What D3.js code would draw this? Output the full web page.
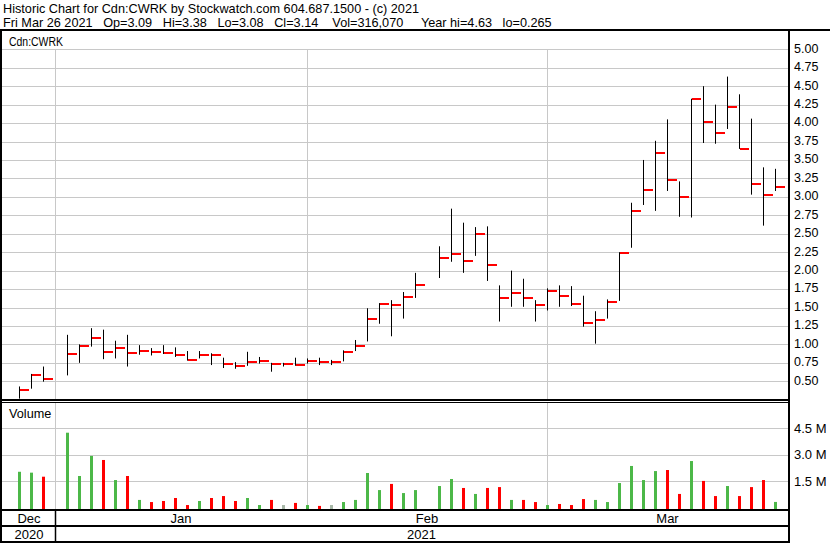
<!DOCTYPE html>
<html><head><meta charset="utf-8">
<script src="https://cdn.jsdelivr.net/npm/d3@7"></script>
<style>
html,body{margin:0;padding:0;background:#fff;}
svg{display:block;font-family:"Liberation Sans",Arial,sans-serif;}
</style></head>
<body>
<svg id="chart" width="830" height="543"></svg>
<script>
// ---------------- data ----------------
const dates = [
 "2020-12-29","2020-12-30","2020-12-31",
 "2021-01-04","2021-01-05","2021-01-06","2021-01-07","2021-01-08",
 "2021-01-11","2021-01-12","2021-01-13","2021-01-14","2021-01-15",
 "2021-01-18","2021-01-19","2021-01-20","2021-01-21","2021-01-22",
 "2021-01-25","2021-01-26","2021-01-27","2021-01-28","2021-01-29",
 "2021-02-01","2021-02-02","2021-02-03","2021-02-04","2021-02-05",
 "2021-02-08","2021-02-09","2021-02-10","2021-02-11","2021-02-12",
 "2021-02-16","2021-02-17","2021-02-18","2021-02-19",
 "2021-02-22","2021-02-23","2021-02-24","2021-02-25","2021-02-26",
 "2021-03-01","2021-03-02","2021-03-03","2021-03-04","2021-03-05",
 "2021-03-08","2021-03-09","2021-03-10","2021-03-11","2021-03-12",
 "2021-03-15","2021-03-16","2021-03-17","2021-03-18","2021-03-19",
 "2021-03-22","2021-03-23","2021-03-24","2021-03-25","2021-03-26"
];
const highs = [
 0.43,0.60,0.70,
 1.13,1.00,1.22,1.20,1.05,
 1.13,0.99,0.95,0.99,0.96,
 0.91,0.91,0.88,0.82,0.76,
 0.90,0.83,0.75,0.75,0.82,
 0.81,0.82,0.79,0.92,1.06,
 1.49,1.56,1.60,1.71,1.97,
 2.33,2.84,2.65,2.59,
 2.60,1.80,2.00,1.89,1.60,
 1.76,1.80,1.79,1.66,1.45,
 1.61,2.25,2.92,3.50,3.76,
 4.05,3.21,4.33,4.50,4.25,
 4.63,4.39,4.06,3.40,3.38
];
const lows = [
 0.265,0.40,0.495,
 0.58,0.75,0.97,0.80,0.81,
 0.70,0.86,0.85,0.87,0.83,
 0.78,0.81,0.72,0.68,0.67,
 0.71,0.74,0.63,0.70,0.71,
 0.74,0.72,0.72,0.77,0.91,
 1.04,1.28,1.11,1.35,1.63,
 1.90,2.12,1.97,2.20,
 1.86,1.31,1.51,1.51,1.31,
 1.46,1.51,1.52,1.24,1.01,
 1.35,1.59,2.31,2.89,2.81,
 3.08,2.73,2.72,3.73,3.72,
 3.92,3.65,3.03,2.61,3.08
];
const closes = [
 0.38,0.59,0.53,
 0.87,0.98,1.09,0.90,0.95,
 0.89,0.91,0.90,0.89,0.86,
 0.79,0.86,0.85,0.74,0.71,
 0.76,0.78,0.74,0.74,0.72,
 0.78,0.76,0.76,0.90,0.98,
 1.35,1.55,1.53,1.64,1.80,
 2.17,2.22,2.13,2.50,
 2.07,1.63,1.70,1.63,1.54,
 1.73,1.65,1.55,1.29,1.33,
 1.58,2.24,2.81,3.09,3.60,
 3.23,3.00,4.33,4.02,3.87,
 4.22,3.65,3.18,3.02,3.14
];
const volumes = [
 2030000,1980000,1750000,
 4250000,1790000,2930000,2700000,1560000,
 1790000,430000,310000,370000,540000,
 140000,370000,540000,650000,370000,
 540000,140000,430000,140000,260000,
 140000,90000,140000,310000,430000,
 1960000,990000,1340000,820000,990000,
 1220000,1620000,1110000,770000,
 1110000,1160000,430000,430000,310000,
 140000,200000,140000,480000,430000,
 310000,1390000,2360000,1560000,2070000,
 2130000,770000,2640000,1510000,650000,
 1220000,650000,1160000,1560000,316070
];
const priorClose = 0.30;
const priceTicks = [0.50,0.75,1.00,1.25,1.50,1.75,2.00,2.25,2.50,2.75,3.00,3.25,3.50,3.75,4.00,4.25,4.50,4.75,5.00];
const volTicks = [1500000,3000000,4500000];
const volTickLabels = ["1.5 M","3.0 M","4.5 M"];
const monthLabels = ["Dec","Jan","Feb","Mar"];
const monthStarts = ["2020-12-01","2021-01-01","2021-02-01","2021-03-01","2021-04-01"];
const yearLabels = ["2020","2021"];
const yearStarts = ["2020-01-01","2021-01-01","2022-01-01"];
const headerLine1 = "Historic Chart for Cdn:CWRK by Stockwatch.com 604.687.1500 - (c) 2021";
const headerLine2 = "Fri Mar 26 2021   Op=3.09   Hi=3.38   Lo=3.08   Cl=3.14    Vol=316,070     Year hi=4.63   lo=0.265";
const symbolLabel = "Cdn:CWRK";

// ---------------- helpers ----------------
const parse = d3.timeParse("%Y-%m-%d");
const base = new Date(2021,0,1);
function wdIndex(date){
  let n = 0;
  if (date >= base){
    for (let d = new Date(base); d < date; d.setDate(d.getDate()+1)) if (d.getDay()%6) n++;
  } else {
    for (let d = new Date(date); d < base; d.setDate(d.getDate()+1)) if (d.getDay()%6) n--;
  }
  return n;
}
const idx = dates.map(s => wdIndex(parse(s)));
const keepSpaces = s => s.replace(/ /g, "\u00A0");

// layout
const W = 830, H = 543;
const plotL = 2, plotR = 788;
const priceBot = 399;
const volTop = 403, volBot = 509;

const x = d3.scaleLinear().domain([-4.333, 61.083]).range([3, 788]);
const y = d3.scaleLinear().domain([0.5, 5.0]).range([381.3, 49.3]);
const yv = d3.scaleLinear().domain([0, 4500000]).range([507.5, 428.3]);

const svg = d3.select("#chart");
svg.append("rect").attr("width",W).attr("height",H).attr("fill","#fff");

// header
svg.append("text").attr("x",3).attr("y",12.5).attr("font-size",12.7).attr("fill","#000").text(keepSpaces(headerLine1));
svg.append("text").attr("x",3).attr("y",26.5).attr("font-size",12.7).attr("fill","#000").text(keepSpaces(headerLine2));

const grid = "#c8c8c8";
// price gridlines
svg.append("g").selectAll("line").data(priceTicks).join("line")
  .attr("x1",plotL).attr("x2",plotR)
  .attr("y1",d=>Math.round(y(d))+0.5).attr("y2",d=>Math.round(y(d))+0.5)
  .attr("stroke",grid).attr("stroke-width",1);
// volume gridlines
svg.append("g").selectAll("line").data(volTicks).join("line")
  .attr("x1",plotL).attr("x2",plotR)
  .attr("y1",d=>Math.round(yv(d))+0.5).attr("y2",d=>Math.round(yv(d))+0.5)
  .attr("stroke",grid).attr("stroke-width",1);

// month boundaries (vertical gridlines)
const monthX = monthStarts.map(s => Math.max(3, Math.min(788, x(wdIndex(parse(s))))));
const innerBounds = monthX.filter(v => v > 3 && v < 788);
svg.append("g").selectAll("line").data(innerBounds).join("line")
  .attr("x1",d=>Math.round(d)+0.5).attr("x2",d=>Math.round(d)+0.5)
  .attr("y1",Math.round(y(5.0))).attr("y2",priceBot)
  .attr("stroke",grid);
svg.append("g").selectAll("line").data(innerBounds).join("line")
  .attr("x1",d=>Math.round(d)+0.5).attr("x2",d=>Math.round(d)+0.5)
  .attr("y1",volTop).attr("y2",volBot)
  .attr("stroke",grid);

// labels in panels
svg.append("text").attr("x",9).attr("y",46).attr("font-size",12)
  .attr("textLength",54).attr("lengthAdjust","spacingAndGlyphs").text(symbolLabel);
svg.append("text").attr("x",9).attr("y",418).attr("font-size",12.7).text("Volume");

// price bars
const bars = svg.append("g");
bars.selectAll("line").data(idx).join("line")
  .attr("x1",(d)=>Math.round(x(d))+0.5).attr("x2",(d)=>Math.round(x(d))+0.5)
  .attr("y1",(d,i)=>y(highs[i])).attr("y2",(d,i)=>y(lows[i]))
  .attr("stroke","#000").attr("stroke-width",1);
bars.selectAll("rect").data(idx).join("rect")
  .attr("x",(d)=>Math.round(x(d))+1).attr("width",9)
  .attr("y",(d,i)=>Math.round(y(closes[i]))-1).attr("height",2)
  .attr("fill","#ff0000");

// volume bars
const volColor = (i) => {
  const prev = i === 0 ? priorClose : closes[i-1];
  if (closes[i] > prev) return "#4cb848";
  if (closes[i] < prev) return "#ff0000";
  return "#a8b8a8";
};
svg.append("g").selectAll("rect").data(idx).join("rect")
  .attr("x",(d)=>Math.round(x(d))-1).attr("width",3)
  .attr("y",(d,i)=>yv(volumes[i])).attr("height",(d,i)=>volBot-yv(volumes[i]))
  .attr("fill",(d,i)=>volColor(i));

// price axis labels
svg.append("g").selectAll("text").data(priceTicks).join("text")
  .attr("x",794).attr("y",d=>y(d)-1).attr("dy","0.35em")
  .attr("font-size",12.5).text(d=>d3.format(".2f")(d));
// volume axis labels
svg.append("g").selectAll("text").data(volTicks).join("text")
  .attr("x",794).attr("y",d=>yv(d)).attr("dy","0.35em")
  .attr("font-size",13).text((d,i)=>keepSpaces(volTickLabels[i]));

// month labels
const monthLbl = monthLabels.map((m,i)=>({m, c:(monthX[i]+monthX[i+1])/2}));
svg.append("g").selectAll("text").data(monthLbl).join("text")
  .attr("x",d=>d.c).attr("y",523).attr("text-anchor","middle").attr("font-size",13).text(d=>d.m);
const yearX = yearStarts.map(s => Math.max(3, Math.min(788, x(wdIndex(parse(s))))));
const yearLbl = yearLabels.map((m,i)=>({m, c:(yearX[i]+yearX[i+1])/2}));
svg.append("g").selectAll("text").data(yearLbl).join("text")
  .attr("x",d=>d.c).attr("y",539).attr("text-anchor","middle").attr("font-size",13).text(d=>d.m);

// frame lines
const frame = svg.append("g").attr("fill","#000");
frame.append("rect").attr("x",0).attr("y",29).attr("width",W).attr("height",2);
frame.append("rect").attr("x",0).attr("y",29).attr("width",2).attr("height",H-29);
frame.append("rect").attr("x",plotR).attr("y",29).attr("width",2).attr("height",H-29);
frame.append("rect").attr("x",0).attr("y",399).attr("width",plotR).attr("height",2);
frame.append("rect").attr("x",0).attr("y",402).attr("width",plotR).attr("height",1);
frame.append("rect").attr("x",0).attr("y",volBot).attr("width",plotR).attr("height",2);
frame.append("rect").attr("x",0).attr("y",525).attr("width",plotR).attr("height",2);
frame.append("rect").attr("x",0).attr("y",541).attr("width",plotR+2).attr("height",2);
const yb = yearX.filter(v => v > 3 && v < 788);
frame.selectAll("line").data(yb).join("line")
  .attr("x1",d=>Math.round(d)+0.5).attr("x2",d=>Math.round(d)+0.5)
  .attr("y1",volBot+2).attr("y2",541).attr("stroke","#000").attr("stroke-width",1.5);
</script>
</body></html>
